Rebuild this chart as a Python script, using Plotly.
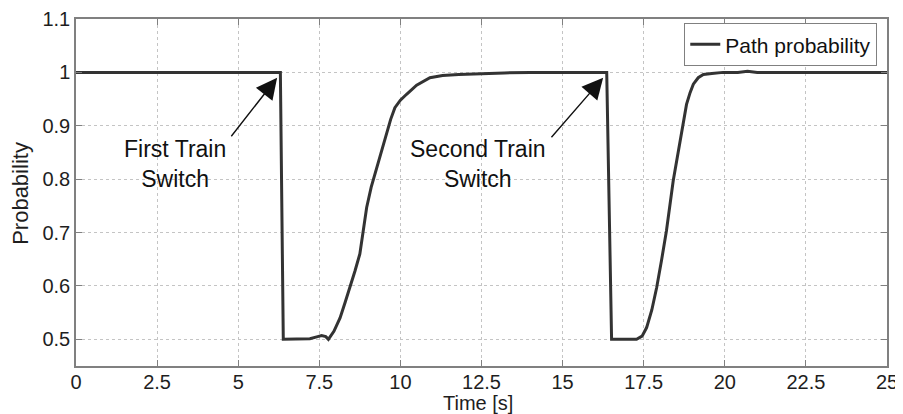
import plotly.graph_objects as go

time_s = [0, 6.30, 6.39, 7.0, 7.21, 7.45, 7.57, 7.7, 7.78, 7.95, 8.14, 8.3, 8.45, 8.6, 8.75, 8.96, 9.1, 9.27,
          9.42, 9.57, 9.7, 9.83, 10.0, 10.19, 10.5, 10.91, 11.3, 11.8, 12.5, 13.2, 14.0, 16.36,
          16.51, 17.0, 17.28, 17.45, 17.59, 17.75, 17.9, 18.05, 18.2, 18.41, 18.62, 18.82, 18.93,
          19.03, 19.18, 19.34, 19.6, 19.95, 20.4, 20.7, 21.0, 25]
probability = [1.0, 1.0, 0.5, 0.5, 0.501, 0.505, 0.507, 0.505, 0.50, 0.515, 0.54, 0.57, 0.597, 0.628, 0.66, 0.747, 0.785, 0.822,
               0.855, 0.884, 0.912, 0.934, 0.948, 0.959, 0.976, 0.99, 0.994, 0.996, 0.998, 0.999, 1.0, 1.0,
               0.5, 0.5, 0.5, 0.506, 0.522, 0.555, 0.597, 0.648, 0.703, 0.797, 0.872, 0.94, 0.962,
               0.978, 0.99, 0.996, 0.998, 1.0, 1.0, 1.002, 1.0, 1.0]

x_ticks = [0, 2.5, 5, 7.5, 10, 12.5, 15, 17.5, 20, 22.5, 25]
x_tick_labels = ["0", "2.5", "5", "7.5", "10", "12.5", "15", "17.5", "20", "22.5", "25"]
y_ticks = [0.5, 0.6, 0.7, 0.8, 0.9, 1.0, 1.1]
y_tick_labels = ["0.5", "0.6", "0.7", "0.8", "0.9", "1", "1.1"]

font_family = "Liberation Sans, Arial, sans-serif"
ink = "#1e1e1e"

fig = go.Figure()
fig.add_trace(go.Scatter(x=time_s, y=probability, mode="lines", name="Path probability",
                         line=dict(color="#333333", width=3)))

axis_common = dict(showline=True, linecolor="#808080", linewidth=1.5, mirror="ticks",
                   ticks="inside", ticklen=6, tickcolor="#808080",
                   showgrid=True, gridcolor="#c4c4c4", griddash="dot", gridwidth=1,
                   zeroline=False, automargin=False, ticklabeloverflow="allow")

fig.update_xaxes(range=[0, 25], tickvals=x_ticks, ticktext=x_tick_labels, ticklabelstandoff=-3,
                 tickfont=dict(family=font_family, size=20, color=ink), **axis_common)
fig.update_yaxes(range=[0.45, 1.1], tickvals=y_ticks, ticktext=y_tick_labels,
                 tickfont=dict(family=font_family, size=20, color=ink), **axis_common)

# axis titles
fig.add_annotation(x=0.496, y=-0.106, xref="paper", yref="paper", text="Time [s]", showarrow=False,
                   xanchor="center", yanchor="middle",
                   font=dict(family=font_family, size=20, color=ink))
fig.add_annotation(x=-0.068, y=0.4986, xref="paper", yref="paper", text="Probability", showarrow=False,
                   xanchor="center", yanchor="middle", textangle=-90,
                   font=dict(family=font_family, size=22, color=ink))

# arrows
fig.add_annotation(x=6.2, y=0.99, ax=-47, ay=60, text="", showarrow=True, arrowhead=2,
                   arrowsize=3, arrowwidth=1.4, arrowcolor="#111111", standoff=0)
fig.add_annotation(x=16.25, y=0.99, ax=-53, ay=61, text="", showarrow=True, arrowhead=2,
                   arrowsize=3, arrowwidth=1.4, arrowcolor="#111111", standoff=0)
# labels
fig.add_annotation(x=3.05, y=0.828, text="First Train<br>Switch", showarrow=False,
                   font=dict(family=font_family, size=23, color="#111111"))
fig.add_annotation(x=12.39, y=0.828, text="Second Train<br>Switch", showarrow=False,
                   font=dict(family=font_family, size=23, color="#111111"))

# page body has an 8px margin: size/margins compensate so the plot area lands on the reference pixels
fig.update_layout(
    width=895, height=406,
    margin=dict(l=68, r=16, t=11, b=48),
    paper_bgcolor="white", plot_bgcolor="white",
    showlegend=True,
    legend=dict(x=0.988, y=0.988, xanchor="right", yanchor="top",
                bgcolor="white", bordercolor="#808080", borderwidth=1,
                font=dict(family=font_family, size=21, color="#111111"),
                itemwidth=30, tracegroupgap=0),
)

fig.write_html("out.html")
